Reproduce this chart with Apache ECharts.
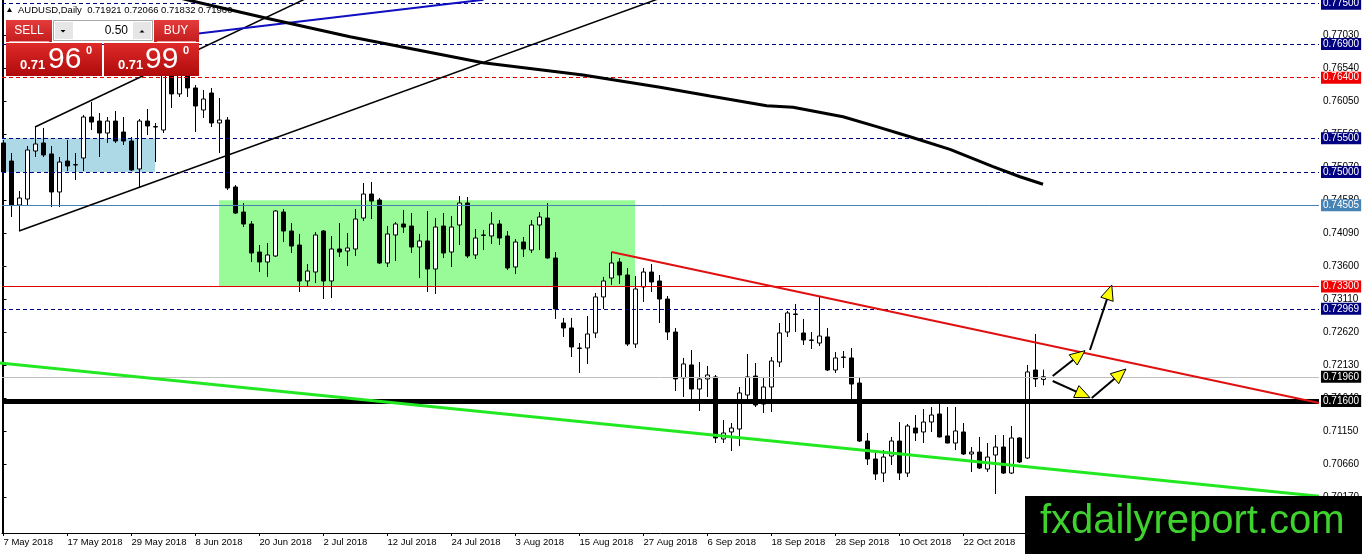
<!DOCTYPE html>
<html><head><meta charset="utf-8">
<script src="https://cdn.jsdelivr.net/npm/echarts@6/dist/echarts.min.js"></script>
<style>html,body{margin:0;padding:0;background:#fff}#c{width:1362px;height:554px}</style>
</head><body><div id="c"></div>
<script>
// ---- DATA ----
const xLabelBars = [0, 8, 16, 24, 32, 40, 48, 56, 64, 72, 80, 88, 96, 104, 112, 120];
const xLabels = ["7 May 2018","17 May 2018","29 May 2018","8 Jun 2018","20 Jun 2018","2 Jul 2018","12 Jul 2018","24 Jul 2018","3 Aug 2018","15 Aug 2018","27 Aug 2018","6 Sep 2018","18 Sep 2018","28 Sep 2018","10 Oct 2018","22 Oct 2018"];
const yTicks = [0.77030,0.76540,0.76050,0.75560,0.75070,0.74580,0.74090,0.73600,0.73110,0.72620,0.72130,0.71640,0.71150,0.70660,0.70170];

const opens = [
0.75431,0.75163,0.74510,0.74599,0.75312,0.75431,0.75268,0.74703,0.75163,0.75104,
0.75208,0.75817,0.75757,0.75579,0.75757,0.75594,0.75460,0.75045,0.75757,0.75668,
0.75624,0.76589,0.76159,0.76633,0.76248,0.75921,0.76173,0.75728,0.75772,0.74778,
0.74406,0.74228,0.73812,0.73664,0.73753,0.74406,0.74124,0.73916,0.73382,0.73515,
0.74124,0.73382,0.73857,0.73827,0.73857,0.74317,0.74673,0.74584,0.73649,0.74065,
0.74228,0.74198,0.73887,0.73976,0.73560,0.74198,0.73812,0.74213,0.74540,0.73768,
0.74065,0.74050,0.74228,0.74050,0.73590,0.73961,0.73842,0.74213,0.74317,0.73723,
0.72758,0.72684,0.72387,0.72387,0.72610,0.73145,0.73426,0.73664,0.73471,0.72446,
0.73293,0.73515,0.73382,0.73114,0.72624,0.71942,0.72135,0.71778,0.71927,0.71957,
0.71036,0.71140,0.71184,0.71689,0.71971,0.71555,0.71808,0.72179,0.72624,0.72892,
0.72610,0.72506,0.72461,0.72551,0.72060,0.72253,0.72239,0.71867,0.71006,0.70739,
0.70530,0.70783,0.71006,0.70530,0.71199,0.71140,0.71288,0.71407,0.71081,0.70976,
0.71140,0.70813,0.70842,0.70590,0.70798,0.70917,0.70530,0.71051,0.70753,0.72060,
0.71921];
const closes = [
0.75000,0.74510,0.74614,0.75327,0.75416,0.75253,0.74703,0.75148,0.75089,0.75110,
0.75817,0.75742,0.75579,0.75757,0.75460,0.75460,0.75030,0.75757,0.75683,0.75675,
0.76515,0.76159,0.76633,0.76248,0.75980,0.76084,0.75728,0.75772,0.74763,0.74391,
0.74228,0.73797,0.73664,0.73768,0.74421,0.74124,0.73901,0.73382,0.73530,0.74065,
0.73382,0.73857,0.73812,0.73872,0.74302,0.74673,0.74569,0.73649,0.74080,0.74228,
0.74183,0.73887,0.73976,0.73560,0.74183,0.73797,0.74183,0.74540,0.73753,0.74020,
0.74060,0.74228,0.74020,0.73575,0.73961,0.73857,0.74213,0.74332,0.73723,0.72966,
0.72684,0.72402,0.72380,0.72595,0.73145,0.73382,0.73649,0.73471,0.72446,0.73263,
0.73515,0.73367,0.73114,0.72624,0.71927,0.72150,0.71778,0.71927,0.71986,0.71051,
0.71125,0.71199,0.71719,0.71957,0.71541,0.71808,0.72194,0.72610,0.72907,0.72885,
0.72506,0.72500,0.72565,0.72060,0.72239,0.72248,0.71852,0.71006,0.70739,0.70516,
0.70768,0.71006,0.70530,0.71229,0.71125,0.71288,0.71392,0.71066,0.70976,0.71155,
0.70813,0.70842,0.70605,0.70768,0.70917,0.70530,0.71051,0.70694,0.72031,0.71927,
0.71960];
const highs = [
0.75475,0.75282,0.74718,0.75386,0.75669,0.75654,0.75386,0.75223,0.75475,0.75282,
0.75847,0.76040,0.75876,0.75817,0.75906,0.75817,0.75520,0.75787,0.75936,0.75728,
0.76633,0.76738,0.76782,0.76738,0.76292,0.76218,0.76248,0.76099,0.75817,0.74807,
0.74540,0.74272,0.73916,0.73946,0.74436,0.74451,0.74243,0.74080,0.73634,0.74109,
0.74139,0.74050,0.74243,0.74094,0.74451,0.74837,0.74852,0.74614,0.74198,0.74257,
0.74436,0.74391,0.74080,0.74421,0.74317,0.74391,0.74347,0.74644,0.74629,0.74154,
0.74139,0.74406,0.74287,0.74124,0.74005,0.74035,0.74287,0.74406,0.74540,0.73812,
0.72833,0.72833,0.72461,0.72862,0.73204,0.73442,0.73812,0.73723,0.73575,0.73456,
0.73575,0.73634,0.73471,0.73159,0.72684,0.72239,0.72357,0.72179,0.72120,0.71986,
0.71318,0.71273,0.71808,0.72298,0.72164,0.71957,0.72253,0.72758,0.72936,0.73040,
0.72818,0.72624,0.73145,0.72684,0.72327,0.72342,0.72387,0.71957,0.71125,0.70842,
0.70872,0.71066,0.71288,0.71258,0.71392,0.71481,0.71511,0.71570,0.71511,0.71511,
0.71273,0.70917,0.71066,0.70976,0.71095,0.71095,0.71229,0.71060,0.72135,0.72595,
0.72066];
const lows = [
0.74941,0.74332,0.74124,0.74510,0.75223,0.75223,0.74480,0.74480,0.75015,0.74881,
0.75015,0.75624,0.75223,0.75431,0.75431,0.75401,0.75015,0.74763,0.75549,0.75148,
0.75579,0.75950,0.76114,0.76114,0.75594,0.75802,0.75668,0.75282,0.74733,0.74376,
0.74183,0.73664,0.73516,0.73442,0.73738,0.73961,0.73797,0.73218,0.73293,0.73352,
0.73114,0.73129,0.73738,0.73605,0.73753,0.74272,0.74302,0.73634,0.73590,0.73679,
0.74094,0.73797,0.73426,0.73218,0.73189,0.73723,0.73590,0.73916,0.73723,0.73708,
0.73842,0.73931,0.73916,0.73545,0.73486,0.73738,0.73797,0.73842,0.73715,0.72818,
0.72551,0.72253,0.72016,0.72150,0.72536,0.72966,0.73323,0.73338,0.72417,0.72387,
0.73070,0.73218,0.72758,0.72506,0.71748,0.71659,0.71630,0.71451,0.71659,0.70976,
0.70976,0.70857,0.70931,0.71615,0.71511,0.71422,0.71437,0.72105,0.72551,0.72624,
0.72432,0.72372,0.72417,0.72045,0.72016,0.72090,0.71630,0.70991,0.70649,0.70427,
0.70397,0.70649,0.70427,0.70471,0.71006,0.70976,0.71140,0.71060,0.70970,0.70872,
0.70798,0.70546,0.70590,0.70546,0.70219,0.70516,0.70516,0.70679,0.70739,0.71808,
0.71832];

// drawn objects (bar index, price)
const maLine = [[20,0.77643],[23.31,0.77547],[32.9,0.77282],[43.31,0.77009],[59.94,0.76623],[72.44,0.76440],[82.06,0.76258],[88.31,0.76129],[95.4,0.75985],[98.69,0.75961],[104.94,0.75821],[109.15,0.75673],[113.31,0.75524],[118.31,0.75337],[123.69,0.75079],[127.06,0.74930],[129.94,0.74818]];
const channelLower = [[1.94,0.74124],[85,0.77707]];
const channelUpper = [[3.94,0.75669],[40,0.77699]];
const blueLine = [[22,0.77024],[60,0.77558]];
const redTrend = [[76,0.73812],[164.44,0.71570]];
const greenTrend = [[-0.44,0.72164],[164.44,0.70186]];
const blueZone = [[-0.1875,0.75500],[18.94,0.75000]];
const greenZone = [[26.94,0.74580],[78.94,0.73300]];
const levelPrices = [0.77500,0.76900,0.76400,0.75500,0.75000,0.74505,0.73300,0.72969,0.71960,0.71600];
const arrowStarts = [[131.15,0.71971],[131.15,0.71897],[135.81,0.72357],[136.03,0.71644]];
const arrowEnds = [[135.19,0.72347],[135.81,0.71649],[138.53,0.73322],[140.31,0.72075]];

// ---- STYLES ----
const FONT = 'Liberation Sans, Arial, sans-serif';
const NAVY = '#000080';
const levelStyles = [
  {c:NAVY,t:[4,3],w:1,bg:NAVY},
  {c:NAVY,t:[4,3],w:1,bg:NAVY},
  {c:'#e00000',t:[4,3],w:1,bg:'#f00000'},
  {c:NAVY,t:[4,3],w:1,bg:NAVY},
  {c:NAVY,t:[4,3],w:1,bg:NAVY},
  {c:'#4682b4',t:'solid',w:1,bg:'#4682b4'},
  {c:'#e00000',t:'solid',w:1,bg:'#f00000'},
  {c:NAVY,t:[4,3],w:1,bg:NAVY},
  {c:'#c0c0c0',t:'solid',w:1,bg:'#000'},
  {c:'#000',t:'solid',w:5,bg:'#000'}
];

const candles = opens.map((o,i)=>[i, o, closes[i], lows[i], highs[i]]);
const hidden = [[-50, 0.73]]; // off-range anchor point for marker host series

function lineSeries(data, color, width, z){
  return {type:'line', data, symbol:'none', showSymbol:false, silent:true, z:z||3,
    lineStyle:{color, width}, clip:true};
}

const chart = echarts.init(document.getElementById('c'), null, {renderer:'canvas'});
const redGrad = () => new echarts.graphic.LinearGradient(0,0,0,1,[{offset:0,color:'#e43c3c'},{offset:1,color:'#c41c1c'}]);
const priceGrad = () => new echarts.graphic.LinearGradient(0,0,0,1,[{offset:0,color:'#de2a2a'},{offset:1,color:'#b00a0a'}]);

const option = {
  animation:false,
  backgroundColor:'#fff',
  textStyle:{fontFamily:FONT},
  grid:{left:2, right:43, top:0, bottom:21, containLabel:false, outerBoundsMode:'none'},
  xAxis:{type:'value', min:-0.1875, max:164.4375,
    axisLine:{show:true, lineStyle:{color:'#000', width:1}},
    axisTick:{show:true, length:3, lineStyle:{color:'#000'}, customValues:xLabelBars},
    axisLabel:{show:true, customValues:xLabelBars, align:'left', margin:4, fontSize:9.5, color:'#000', fontFamily:FONT,
      formatter:v=>{const i=xLabelBars.indexOf(Math.round(v)); return i>=0?xLabels[i]:'';}},
    splitLine:{show:false}},
  yAxis:[{type:'value', position:'right', min:0.69640, max:0.77554,
    axisLine:{show:true, lineStyle:{color:'#000', width:1}},
    axisTick:{show:true, length:3, lineStyle:{color:'#000'}, customValues:yTicks},
    axisLabel:{show:true, customValues:yTicks, margin:4, fontSize:10, color:'#000', fontFamily:FONT,
      formatter:v=>v.toFixed(5)},
    splitLine:{show:false}},
   {type:'value', position:'left', min:0.69640, max:0.77554,
    axisLine:{show:true, lineStyle:{color:'#000', width:1}}, axisTick:{show:false}, axisLabel:{show:false}, splitLine:{show:false}}],
  series:[
    {type:'line', data:hidden, symbol:'none', silent:true, z:1, clip:true, lineStyle:{width:0},
      markArea:{silent:true, data:[
        [{coord:blueZone[0], itemStyle:{color:'#add8e6'}},{coord:blueZone[1]}],
        [{coord:greenZone[0], itemStyle:{color:'#98fb98'}},{coord:greenZone[1]}]
      ]}
    },
    {type:'candlestick', data:candles, barWidth:4, z:2, silent:true,
      itemStyle:{color:'#ffffff', color0:'#000000', borderColor:'#000000', borderColor0:'#000000', borderWidth:1}
    },
    {type:'line', data:hidden, symbol:'none', silent:true, z:4, clip:true, lineStyle:{width:0},
      markLine:{silent:true, symbol:['none','none'], animation:false, precision:5,
        data: levelPrices.map((p,i)=>({yAxis:p,
          lineStyle:{color:levelStyles[i].c, type:levelStyles[i].t, width:levelStyles[i].w},
          label:{show:true, position:'end', distance:2, formatter:p.toFixed(5),
            backgroundColor:levelStyles[i].bg, color:'#fff', fontSize:10, fontFamily:FONT,
            padding:[1,2,0,2], lineHeight:11}}))
      }
    },
    lineSeries(greenTrend,'#22e822',3,5),
    lineSeries(redTrend,'#e01010',2,5),
    lineSeries(channelLower,'#000',1.5,5),
    lineSeries(channelUpper,'#000',1.5,5),
    lineSeries(blueLine,'#1010c0',2,5),
    lineSeries(maLine,'#000',3,5),
    {type:'custom', z:8, silent:true, clip:false,
      data: arrowStarts.map((s,i)=>[s[0],s[1],arrowEnds[i][0],arrowEnds[i][1]]),
      encode:{x:[0,2], y:[1,3]},
      renderItem(params, api){
        const a = api.coord([api.value(0), api.value(1)]);
        const b = api.coord([api.value(2), api.value(3)]);
        const dx=b[0]-a[0], dy=b[1]-a[1], len=Math.hypot(dx,dy), ux=dx/len, uy=dy/len;
        const L=15, W=6.5;
        const bx=b[0]-ux*L, by=b[1]-uy*L;
        return {type:'group', children:[
          {type:'line', shape:{x1:a[0],y1:a[1],x2:bx+ux*3,y2:by+uy*3}, style:{stroke:'#000',lineWidth:2}},
          {type:'polygon', shape:{points:[[b[0],b[1]],[bx-uy*W,by+ux*W],[bx+uy*W,by-ux*W]]}, style:{fill:'#ffff00',stroke:'#000',lineWidth:1}}
        ]};
      }
    }
  ],
  graphic:{elements:[
    // header
    {type:'polygon', z:100, shape:{points:[[7,12],[9.5,7.5],[12,12]]}, style:{fill:'#000'}},
    {type:'text', z:100, x:18, y:10, style:{text:'AUDUSD,Daily  0.71921 0.72066 0.71832 0.71960', fill:'#000', font:'9.5px '+FONT, verticalAlign:'middle'}},
    // SELL top
    {type:'rect', z:100, shape:{x:6,y:20,width:46,height:22}, style:{fill:redGrad()}},
    {type:'line', z:101, shape:{x1:9,y1:41.5,x2:49,y2:41.5}, style:{stroke:'#f4a0a0',lineWidth:1}},
    {type:'text', z:101, x:29, y:31, style:{text:'SELL', fill:'#fff', font:'12px '+FONT, align:'center', verticalAlign:'middle'}},
    // spin box
    {type:'rect', z:100, shape:{x:53.5,y:20.5,width:99,height:20}, style:{fill:'#fff', stroke:'#a8a8a8', lineWidth:1}},
    {type:'rect', z:101, shape:{x:55,y:22,width:18,height:17}, style:{fill:'#e6e6e6'}},
    {type:'polygon', z:102, shape:{points:[[60.5,30],[65.5,30],[63,32.5]]}, style:{fill:'#000'}},
    {type:'rect', z:101, shape:{x:133,y:22,width:18,height:17}, style:{fill:'#e6e6e6'}},
    {type:'polygon', z:102, shape:{points:[[139.5,32.5],[144.5,32.5],[142,30]]}, style:{fill:'#000'}},
    {type:'text', z:101, x:128, y:30.5, style:{text:'0.50', fill:'#000', font:'12px '+FONT, align:'right', verticalAlign:'middle'}},
    // BUY top
    {type:'rect', z:100, shape:{x:154,y:20,width:45,height:22}, style:{fill:redGrad()}},
    {type:'line', z:101, shape:{x1:157,y1:41.5,x2:196,y2:41.5}, style:{stroke:'#f4a0a0',lineWidth:1}},
    {type:'text', z:101, x:176, y:31, style:{text:'BUY', fill:'#fff', font:'12px '+FONT, align:'center', verticalAlign:'middle'}},
    // price boxes
    {type:'rect', z:100, shape:{x:6,y:43,width:96,height:33}, style:{fill:priceGrad()}},
    {type:'text', z:101, x:20, y:65, style:{text:'0.71', fill:'#fff', font:'bold 13px '+FONT, verticalAlign:'middle'}},
    {type:'text', z:101, x:48, y:60, style:{text:'96', fill:'#fff', font:'30px '+FONT, verticalAlign:'middle'}},
    {type:'text', z:101, x:86, y:51, style:{text:'0', fill:'#fff', font:'bold 11px '+FONT, verticalAlign:'middle'}},
    {type:'rect', z:100, shape:{x:104,y:43,width:95,height:33}, style:{fill:priceGrad()}},
    {type:'text', z:101, x:118, y:65, style:{text:'0.71', fill:'#fff', font:'bold 13px '+FONT, verticalAlign:'middle'}},
    {type:'text', z:101, x:145, y:60, style:{text:'99', fill:'#fff', font:'30px '+FONT, verticalAlign:'middle'}},
    {type:'text', z:101, x:183, y:51, style:{text:'0', fill:'#fff', font:'bold 11px '+FONT, verticalAlign:'middle'}},
    // banner
    {type:'rect', z:100, shape:{x:1025,y:496,width:337,height:58}, style:{fill:'#000'}},
    {type:'text', z:101, x:1040, y:522, style:{text:'fxdailyreport.com', fill:'#3fd22f', font:'40px '+FONT, verticalAlign:'middle'}}
  ]}
};
chart.setOption(option);
</script>
</body></html>
